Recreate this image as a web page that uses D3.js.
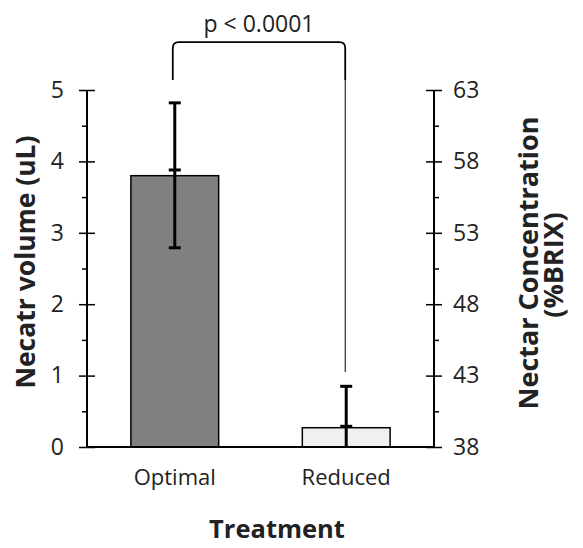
<!DOCTYPE html>
<html>
<head>
<meta charset="utf-8">
<script src="https://cdn.jsdelivr.net/npm/d3@7"></script>
<style>
  body { margin: 0; background: #fff; }
  text { font-family: "Open Sans", sans-serif; fill: #222; }
</style>
</head>
<body>
<svg id="chart" width="583" height="548"></svg>
<script>
// data
var treatments = ["Optimal", "Reduced"];
var volume = [3.8, 0.27];
var volErrUp = [1.02, 0.58];
var volErrDown = [1.01, 0.27];
var volCap = [3.88, 0.29];        // second cap on each error bar
var barFill = ["#808080", "#f0f0f0"];
var leftTicks = [0, 1, 2, 3, 4, 5];
var leftMinor = [0.5, 1.5, 2.5, 3.5, 4.5];
var rightTicks = [38, 43, 48, 53, 58, 63];
var rightMinor = [40.5, 45.5, 50.5, 55.5, 60.5];
var pLabel = "p < 0.0001";
var bracketTop = 5.67, bracketLeg = 5.14, guideEnd = 1.05;

var svg = d3.select("#chart"),
    x0 = 87, x1 = 434, yTop = 90, yBot = 447;

var x = d3.scaleBand().domain(treatments).range([x0, x1]).paddingInner(0.488).paddingOuter(0.256);
var y = d3.scaleLinear().domain([0, 5]).range([yBot, yTop]);
var y2 = d3.scaleLinear().domain([38, 63]).range([yBot, yTop]);
var cx = function(d){ return x(d) + x.bandwidth() / 2; };

// bars
svg.selectAll("rect.bar").data(treatments).enter().append("rect")
  .attr("class", "bar")
  .attr("x", function(d){ return x(d); })
  .attr("width", x.bandwidth())
  .attr("y", function(d, i){ return y(volume[i]); })
  .attr("height", function(d, i){ return yBot - y(volume[i]); })
  .attr("fill", function(d, i){ return barFill[i]; })
  .attr("stroke", "#000").attr("stroke-width", 1.5);

// error bars
var eb = svg.append("g").attr("stroke", "#000").attr("stroke-width", 3);
treatments.forEach(function(t, i){
  var c = cx(t);
  eb.append("line").attr("x1", c).attr("x2", c)
    .attr("y1", y(volume[i] + volErrUp[i])).attr("y2", y(volume[i] - volErrDown[i]));
  [volume[i] + volErrUp[i], volCap[i]].concat(volErrDown[i] < volume[i] ? [volume[i] - volErrDown[i]] : [])
    .forEach(function(v){
      eb.append("line").attr("x1", c - 6).attr("x2", c + 6).attr("y1", y(v)).attr("y2", y(v));
    });
});

// axes
function axisPart(gen, xpos){
  var g = svg.append("g").attr("transform", "translate(" + xpos + ",0)").call(gen);
  g.select(".domain").remove();
  g.selectAll("line").attr("stroke", "#000").attr("stroke-width", 1.5);
  return g;
}
var gl = axisPart(d3.axisLeft(y).tickValues(leftTicks).tickSize(8).tickPadding(15).tickFormat(d3.format("d")), x0);
gl.selectAll("text").style("font-size", "23px").attr("fill", "#222");
axisPart(d3.axisRight(y).tickValues(leftTicks).tickSize(8).tickFormat(""), x0);
axisPart(d3.axisLeft(y).tickValues(leftMinor).tickSize(5).tickFormat(""), x0);

var gr = axisPart(d3.axisRight(y2).tickValues(rightTicks).tickSize(8).tickPadding(11), x1);
gr.selectAll("text").style("font-size", "23px").attr("fill", "#222");
axisPart(d3.axisLeft(y2).tickValues(rightTicks).tickSize(8).tickFormat(""), x1);
axisPart(d3.axisRight(y2).tickValues(rightMinor).tickSize(5).tickFormat(""), x1);

svg.append("line").attr("x1", x0).attr("x2", x0).attr("y1", yTop).attr("y2", yBot)
  .attr("stroke", "#000").attr("stroke-width", 2);
svg.append("line").attr("x1", x1).attr("x2", x1).attr("y1", yTop).attr("y2", yBot)
  .attr("stroke", "#000").attr("stroke-width", 2);
svg.append("line").attr("x1", x0).attr("x2", x1).attr("y1", yBot).attr("y2", yBot)
  .attr("stroke", "#000").attr("stroke-width", 2);

// category labels
svg.selectAll("text.cat").data(treatments).enter().append("text")
  .attr("class", "cat")
  .attr("x", cx).attr("y", 485)
  .attr("text-anchor", "middle").style("font-size", "22px")
  .text(function(d){ return d; });

// significance bracket
var bl = cx(treatments[0]) - 2, br = cx(treatments[1]) - 1;
var bt = y(bracketTop), bb = y(bracketLeg);
svg.append("path")
  .attr("d", "M" + bl + "," + bb + "L" + bl + "," + (bt + 6) + "Q" + bl + "," + bt + " " + (bl + 6) + "," + bt +
             "L" + (br - 6) + "," + bt + "Q" + br + "," + bt + " " + br + "," + (bt + 6) + "L" + br + "," + bb)
  .attr("fill", "none").attr("stroke", "#000").attr("stroke-width", 1.8);
svg.append("line").attr("x1", br).attr("x2", br).attr("y1", bb).attr("y2", y(guideEnd))
  .attr("stroke", "#000").attr("stroke-width", 1);
svg.append("text").attr("x", (bl + br) / 2).attr("y", 32)
  .attr("text-anchor", "middle").style("font-size", "23px").text(pLabel);

// axis titles
svg.append("text").attr("x", 277).attr("y", 538).attr("text-anchor", "middle")
  .style("font-size", "25.5px").style("font-weight", "bold").text("Treatment");
svg.append("text").attr("transform", "translate(35,262) rotate(-90)").attr("text-anchor", "middle")
  .style("font-size", "26.5px").style("font-weight", "bold").text("Necatr volume (uL)");
svg.append("text").attr("transform", "translate(538,263) rotate(-90)").attr("text-anchor", "middle")
  .style("font-size", "27px").style("font-weight", "bold").text("Nectar Concentration");
svg.append("text").attr("transform", "translate(563,265) rotate(-90)").attr("text-anchor", "middle")
  .style("font-size", "27px").style("font-weight", "bold").text("(%BRIX)");
</script>
</body>
</html>
